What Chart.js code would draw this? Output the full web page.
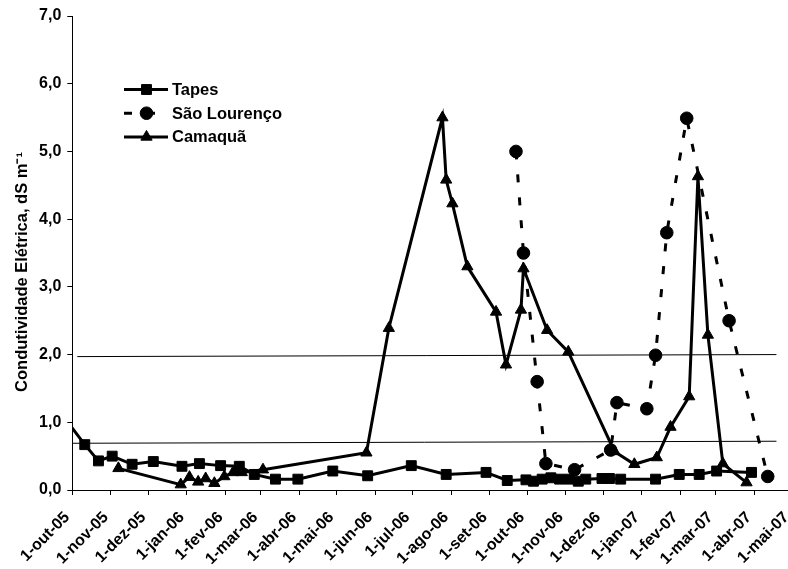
<!DOCTYPE html>
<html><head><meta charset="utf-8">
<script src="https://cdn.jsdelivr.net/npm/chart.js@4.4.1/dist/chart.umd.min.js"></script>
<style>
html,body{margin:0;padding:0;background:#fff;overflow:hidden;width:788px;height:569px;}
#wrap{position:relative;width:800px;height:569px;}
canvas{display:block;}
</style></head><body>
<div id="wrap"><canvas id="c" width="800" height="569"></canvas></div>
<script>
// ---- data ----
const monthTickDates = ['2005-10-01','2005-11-01','2005-12-01','2006-01-01','2006-02-01','2006-03-01','2006-04-01','2006-05-01','2006-06-01','2006-07-01','2006-08-01','2006-09-01','2006-10-01','2006-11-01','2006-12-01','2007-01-01','2007-02-01','2007-03-01','2007-04-01','2007-05-01'];
const monthTickLabels = ['1-out-05','1-nov-05','1-dez-05','1-jan-06','1-fev-06','1-mar-06','1-abr-06','1-mai-06','1-jun-06','1-jul-06','1-ago-06','1-set-06','1-out-06','1-nov-06','1-dez-06','1-jan-07','1-fev-07','1-mar-07','1-abr-07','1-mai-07'];
const yTickValues = [0,1,2,3,4,5,6,7];
const yAxisTitle = 'Condutividade Elétrica, dS m\u207B\u00B9';

const tapesDates = ['2005-09-27','2005-10-11','2005-10-22','2005-11-02','2005-11-18','2005-12-05','2005-12-28','2006-01-11','2006-01-28','2006-02-12','2006-02-24','2006-03-13','2006-03-31','2006-04-28','2006-05-26','2006-06-30','2006-07-28','2006-08-29','2006-09-15','2006-09-30','2006-10-06','2006-10-13','2006-10-20','2006-10-27','2006-11-04','2006-11-11','2006-11-17','2006-11-30','2006-12-06','2006-12-15','2007-01-12','2007-01-31','2007-02-16','2007-03-02','2007-03-30'];
const tapesValues = [1.01,0.67,0.43,0.50,0.38,0.42,0.35,0.39,0.36,0.35,0.23,0.16,0.16,0.28,0.21,0.36,0.23,0.26,0.14,0.15,0.13,0.16,0.18,0.16,0.16,0.13,0.16,0.17,0.17,0.16,0.16,0.23,0.23,0.28,0.26];

const saoLourencoDates = ['2006-09-22','2006-09-28','2006-10-09','2006-10-16','2006-11-08','2006-12-07','2006-12-12','2007-01-05','2007-01-12','2007-01-21','2007-02-06','2007-03-12','2007-04-12'];
const saoLourencoValues = [5.00,3.50,1.60,0.39,0.30,0.59,1.29,1.20,1.99,3.80,5.49,2.50,0.20];

const camaquaDates = ['2005-11-07','2005-12-27','2006-01-03','2006-01-10','2006-01-16','2006-01-23','2006-01-31','2006-02-07','2006-02-14','2006-03-03','2006-05-25','2006-06-12','2006-07-25','2006-07-28','2006-08-02','2006-08-14','2006-09-06','2006-09-14','2006-09-26','2006-09-28','2006-10-17','2006-11-03','2006-12-10','2006-12-26','2007-01-13','2007-01-24','2007-02-08','2007-02-15','2007-02-23','2007-03-07','2007-03-26'];
const camaquaValues = [0.32,0.08,0.19,0.12,0.17,0.10,0.20,0.26,0.26,0.30,0.55,2.39,5.50,4.58,4.23,3.30,2.63,1.85,2.66,3.27,2.36,2.04,0.57,0.38,0.48,0.93,1.38,4.63,2.29,0.39,0.11];

// thin reference lines
const refLowDates = ['2005-10-01','2007-04-19'];
const refLowValues = [0.69,0.72];
const refHighDates = ['2005-10-05','2007-04-19'];
const refHighValues = [1.97,2.00];

// ---- helpers ----
const ORIGIN = Date.UTC(2005,9,1);
const dayOf = s => (Date.UTC(+s.slice(0,4), +s.slice(5,7)-1, +s.slice(8,10)) - ORIGIN) / 86400000;
const pts = (dates, vals) => dates.map((d,i) => ({x: dayOf(d), y: vals[i]}));
const tickDays = monthTickDates.map(dayOf);
const labelByDay = {};
tickDays.forEach((d,i) => { labelByDay[d] = monthTickLabels[i]; });

const FONT = "'Liberation Sans', Arial, sans-serif";

const legendPlugin = {
  id: 'customLegend',
  afterDraw(chart) {
    const ctx = chart.ctx;
    const items = chart.data.datasets.filter(d => d.showInLegend);
    ctx.save();
    items.forEach((ds, i) => {
      const y = 89.5 + i * 23.7;
      const x0 = 124, x1 = 168, xm = 146.5;
      ctx.strokeStyle = '#000';
      ctx.lineWidth = 3;
      ctx.lineCap = 'butt';
      ctx.setLineDash(ds.borderDash || []);
      ctx.beginPath(); ctx.moveTo(x0, y); ctx.lineTo(x1, y); ctx.stroke();
      ctx.setLineDash([]);
      ctx.fillStyle = '#000';
      ctx.beginPath();
      const r = ds.pointRadius;
      if (ds.pointStyle === 'rect') {
        const h = r * Math.SQRT1_2;
        ctx.rect(xm - h, y - h, 2*h, 2*h);
      } else if (ds.pointStyle === 'triangle') {
        ctx.moveTo(xm, y - r);
        ctx.lineTo(xm + r*Math.sin(2*Math.PI/3), y - r*Math.cos(2*Math.PI/3));
        ctx.lineTo(xm + r*Math.sin(4*Math.PI/3), y - r*Math.cos(4*Math.PI/3));
        ctx.closePath();
      } else {
        ctx.arc(xm, y, r, 0, Math.PI*2);
      }
      ctx.fill();
      ctx.lineWidth = 1; ctx.stroke();
      ctx.font = 'bold 16.5px ' + FONT;
      ctx.textBaseline = 'middle';
      ctx.textAlign = 'left';
      ctx.fillText(ds.label, 172, y + 1);
    });
    ctx.restore();
  }
};

const yTitlePlugin = {
  id: 'yTitle',
  afterDraw(chart) {
    const ctx = chart.ctx;
    ctx.save();
    ctx.translate(22, 272);
    ctx.rotate(-Math.PI / 2);
    ctx.font = 'bold 16.5px ' + FONT;
    ctx.fillStyle = '#000';
    ctx.textAlign = 'center';
    ctx.textBaseline = 'middle';
    ctx.fillText(yAxisTitle, 0, 0);
    ctx.restore();
  }
};

const mkSeries = (label, data, style, dash, r) => ({
  label, data, showInLegend: true,
  borderColor: '#000', backgroundColor: '#000', borderWidth: 3,
  borderDash: dash, pointStyle: style, pointRadius: r, pointBorderWidth: 1,
  pointBackgroundColor: '#000', pointBorderColor: '#000',
  pointHoverRadius: r, tension: 0, fill: false
});

new Chart(document.getElementById('c'), {
  type: 'line',
  data: {
    datasets: [
      {label: 'ref1', data: pts(refLowDates, refLowValues), borderColor: '#000', borderWidth: 1, pointRadius: 0, fill: false, order: 5},
      {label: 'ref2', data: pts(refHighDates, refHighValues), borderColor: '#000', borderWidth: 1, pointRadius: 0, fill: false, order: 5},
      Object.assign(mkSeries('Tapes', pts(tapesDates, tapesValues), 'rect', [], 7), {order: 1}),
      Object.assign(mkSeries('São Lourenço', pts(saoLourencoDates, saoLourencoValues), 'circle', [8,15], 6.3), {order: 3}),
      Object.assign(mkSeries('Camaquã', pts(camaquaDates, camaquaValues), 'triangle', [], 6.5), {order: 2})
    ]
  },
  options: {
    responsive: false,
    animation: false,
    devicePixelRatio: 1,
    layout: { padding: { left: 0, right: 8.6, top: 16, bottom: 0 } },
    plugins: { legend: { display: false }, tooltip: { enabled: false } },
    scales: {
      x: {
        type: 'linear',
        min: 0, max: tickDays[tickDays.length-1],
        afterBuildTicks: s => { s.ticks = tickDays.map(v => ({value: v})); },
        afterFit: s => { s.height = 79; s.paddingLeft = 0; s.paddingRight = 0; },
        border: { display: true, color: '#000', width: 1 },
        grid: { drawOnChartArea: false, drawTicks: true, tickLength: 5, color: '#000' },
        ticks: {
          autoSkip: false, minRotation: 45, maxRotation: 45, padding: 13, labelOffset: -5,
          color: '#000', font: { family: FONT, size: 16, weight: 'bold' },
          callback: v => labelByDay[v] || ''
        }
      },
      y: {
        min: 0, max: 7,
        afterBuildTicks: s => { s.ticks = yTickValues.map(v => ({value: v})); },
        afterFit: s => { s.width = 72.3; s.paddingTop = 0; s.paddingBottom = 0; },
        border: { display: true, color: '#000', width: 1 },
        grid: { drawOnChartArea: false, drawTicks: true, tickLength: 5, color: '#000' },
        ticks: {
          padding: 6, color: '#000', font: { family: FONT, size: 16, weight: 'bold' },
          callback: v => v.toFixed(1).replace('.', ',')
        },
        title: { display: false }
      }
    }
  },
  plugins: [legendPlugin, yTitlePlugin]
});
</script>
</body></html>
